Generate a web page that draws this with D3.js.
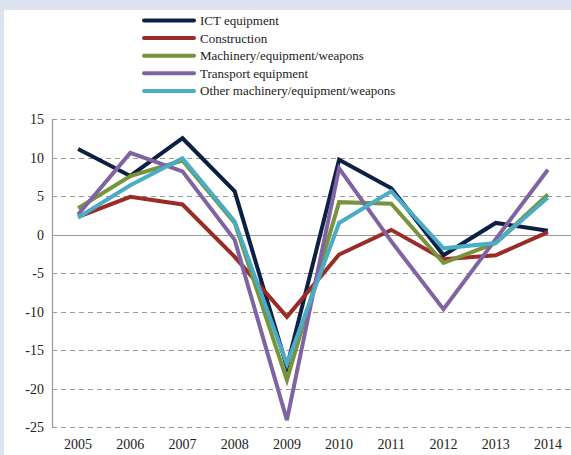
<!DOCTYPE html>
<html>
<head>
<meta charset="utf-8">
<script src="https://cdn.jsdelivr.net/npm/d3@7"></script>
<style>
  body { margin: 0; background: #fff; }
  svg { display: block; }
  text { font-family: "Liberation Serif", "DejaVu Serif", serif; fill: #222; }
</style>
</head>
<body>
<svg width="571" height="455"></svg>
<script>
var years = [2005, 2006, 2007, 2008, 2009, 2010, 2011, 2012, 2013, 2014];
var yTicks = [15, 10, 5, 0, -5, -10, -15, -20, -25];

var ict        = [11.1, 7.6, 12.5, 5.6, -17.2, 9.7, 6.0, -2.7, 1.5, 0.5];
var construct  = [2.3, 4.9, 3.9, -2.9, -10.7, -2.6, 0.6, -3.2, -2.7, 0.3];
var machinery  = [3.4, 7.6, 9.6, 1.5, -18.9, 4.2, 4.0, -3.7, -1.1, 5.2];
var transport  = [2.6, 10.6, 8.2, -0.7, -24.1, 8.6, -0.9, -9.7, -0.6, 8.4];
var otherMach  = [2.2, 6.4, 9.9, 1.7, -16.8, 1.5, 5.6, -1.8, -1.1, 4.8];

var series = [
  {name: "ICT equipment", values: ict, color: "#0c1f45"},
  {name: "Construction", values: construct, color: "#9a2b26"},
  {name: "Machinery/equipment/weapons", values: machinery, color: "#77933c"},
  {name: "Transport equipment", values: transport, color: "#8064a2"},
  {name: "Other machinery/equipment/weapons", values: otherMach, color: "#4bacc6"}
];

var svg = d3.select("svg"),
    width = +svg.attr("width"),
    height = +svg.attr("height");

// frame background
svg.append("rect").attr("width", width).attr("height", height).attr("fill", "#dce3ef");
svg.append("rect").attr("x", 4).attr("y", 10).attr("width", width - 4).attr("height", height - 10).attr("fill", "#fff");

var plotL = 52, plotR = 574, plotT = 119, plotB = 427;

var x = d3.scaleBand().domain(years).range([plotL, plotR]);
var y = d3.scaleLinear().domain([-25, 15]).range([plotB, plotT]);

// grid
svg.append("g").selectAll("line")
  .data(yTicks)
  .enter().append("line")
    .attr("x1", plotL).attr("x2", width)
    .attr("y1", function(d) { return Math.round(y(d)) + 0.5; })
    .attr("y2", function(d) { return Math.round(y(d)) + 0.5; })
    .attr("stroke", "#999")
    .attr("stroke-width", 1.2)
    .attr("stroke-dasharray", function(d) { return d === 0 ? null : "5,4"; });

// y axis line
svg.append("line")
  .attr("x1", plotL + 0.5).attr("x2", plotL + 0.5)
  .attr("y1", plotT).attr("y2", plotB)
  .attr("stroke", "#999").attr("stroke-width", 1.2);

// y tick labels
svg.append("g").selectAll("text")
  .data(yTicks)
  .enter().append("text")
    .attr("x", 44)
    .attr("y", function(d) { return y(d) + 5; })
    .attr("text-anchor", "end")
    .attr("font-size", 14)
    .text(function(d) { return d; });

// x tick labels
svg.append("g").selectAll("text")
  .data(years)
  .enter().append("text")
    .attr("x", function(d) { return x(d) + x.bandwidth() / 2; })
    .attr("y", 449)
    .attr("text-anchor", "middle")
    .attr("font-size", 14)
    .text(function(d) { return d; });

var line = d3.line()
  .x(function(d, i) { return x(years[i]) + x.bandwidth() / 2; })
  .y(function(d) { return y(d); });

svg.append("g").selectAll("path")
  .data(series)
  .enter().append("path")
    .attr("d", function(d) { return line(d.values); })
    .attr("fill", "none")
    .attr("stroke", function(d) { return d.color; })
    .attr("stroke-width", 4)
    .attr("stroke-linejoin", "miter");

// legend
var leg = svg.append("g").selectAll("g")
  .data(series)
  .enter().append("g")
    .attr("transform", function(d, i) { return "translate(0," + (20.5 + i * 17.6) + ")"; });

leg.append("line")
  .attr("x1", 144).attr("x2", 194)
  .attr("stroke", function(d) { return d.color; })
  .attr("stroke-width", 4)
  .attr("stroke-linecap", "round");

leg.append("text")
  .attr("x", 200)
  .attr("y", 4.5)
  .attr("font-size", 13)
  .text(function(d) { return d.name; });
</script>
</body>
</html>
